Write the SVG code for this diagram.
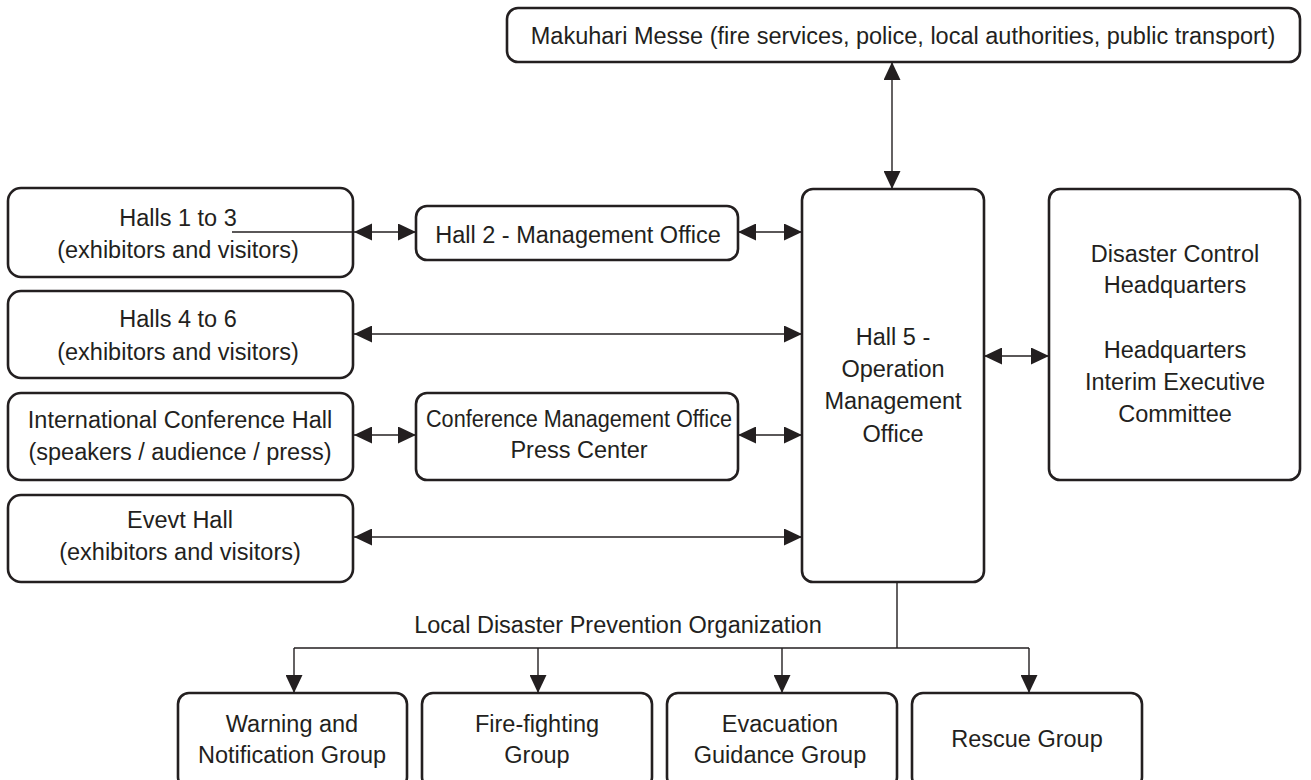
<svg xmlns="http://www.w3.org/2000/svg" width="1311" height="780" viewBox="0 0 1311 780">
<defs>
<style>
.box{fill:#fff;stroke:#231f20;stroke-width:2.6}
.t{font-family:"Liberation Sans",Arial,Helvetica,sans-serif;font-size:23.5px;fill:#231f20;text-anchor:middle}
.c{fill:none;stroke:#231f20;stroke-width:1.4}
.ah{fill:#231f20}
</style>
<marker id="arr" markerUnits="userSpaceOnUse" markerWidth="18" markerHeight="17" refX="18" refY="8.5" orient="auto-start-reverse" viewBox="0 0 18 17">
<path d="M0,0 L18,8.5 L0,17 z" fill="#231f20"/>
</marker>
</defs>
<rect width="1311" height="780" fill="#fff"/>

<g id="makuhari">
<rect class="box" x="507" y="8" width="793" height="54" rx="11"/>
<text class="t" x="903" y="44">Makuhari Messe (fire services, police, local authorities, public transport)</text>
</g>

<g id="halls13">
<rect class="box" x="8" y="188" width="345" height="89" rx="13"/>
<text class="t" x="178" y="226">Halls 1 to 3</text>
<text class="t" x="178" y="258">(exhibitors and visitors)</text>
</g>

<g id="halls46">
<rect class="box" x="8" y="291" width="345" height="87" rx="13"/>
<text class="t" x="178" y="327">Halls 4 to 6</text>
<text class="t" x="178" y="360">(exhibitors and visitors)</text>
</g>

<g id="intl">
<rect class="box" x="8" y="393" width="345" height="87" rx="13"/>
<text class="t" x="180" y="428">International Conference Hall</text>
<text class="t" x="180" y="460">(speakers / audience / press)</text>
</g>

<g id="event">
<rect class="box" x="8" y="495" width="345" height="87" rx="13"/>
<text class="t" x="180" y="528">Evevt Hall</text>
<text class="t" x="180" y="560">(exhibitors and visitors)</text>
</g>

<g id="hall2">
<rect class="box" x="416" y="206" width="322" height="54" rx="11"/>
<text class="t" x="578" y="243">Hall 2 - Management Office</text>
</g>

<g id="conf">
<rect class="box" x="416" y="393" width="322" height="87" rx="11"/>
<text class="t" x="579" y="427" textLength="306" lengthAdjust="spacingAndGlyphs">Conference Management Office</text>
<text class="t" x="579" y="458">Press Center</text>
</g>

<g id="hall5">
<rect class="box" x="802" y="189" width="182" height="393" rx="11"/>
<text class="t" x="893" y="345">Hall 5 -</text>
<text class="t" x="893" y="377">Operation</text>
<text class="t" x="893" y="409">Management</text>
<text class="t" x="893" y="442">Office</text>
</g>

<g id="dchq">
<rect class="box" x="1049" y="189" width="251" height="291" rx="11"/>
<text class="t" x="1175" y="262">Disaster Control</text>
<text class="t" x="1175" y="293">Headquarters</text>
<text class="t" x="1175" y="358">Headquarters</text>
<text class="t" x="1175" y="390">Interim Executive</text>
<text class="t" x="1175" y="422">Committee</text>
</g>

<g id="warning">
<rect class="box" x="178" y="693" width="229" height="95" rx="11"/>
<text class="t" x="292" y="732">Warning and</text>
<text class="t" x="292" y="763">Notification Group</text>
</g>

<g id="fire">
<rect class="box" x="422" y="693" width="230" height="95" rx="11"/>
<text class="t" x="537" y="732">Fire-fighting</text>
<text class="t" x="537" y="763">Group</text>
</g>

<g id="evac">
<rect class="box" x="667" y="693" width="230" height="95" rx="11"/>
<text class="t" x="780" y="732">Evacuation</text>
<text class="t" x="780" y="763">Guidance Group</text>
</g>

<g id="rescue">
<rect class="box" x="912" y="693" width="230" height="95" rx="11"/>
<text class="t" x="1027" y="747">Rescue Group</text>
</g>

<g id="connectors">
<line class="c" x1="892" y1="62" x2="892" y2="189" marker-start="url(#arr)" marker-end="url(#arr)"/>
<line class="c" x1="232" y1="232" x2="416" y2="232" marker-end="url(#arr)"/>
<path class="ah" d="M354,232 L372,223.5 L372,240.5 z"/>
<line class="c" x1="738" y1="232" x2="802" y2="232" marker-start="url(#arr)" marker-end="url(#arr)"/>
<line class="c" x1="354" y1="334" x2="802" y2="334" marker-start="url(#arr)" marker-end="url(#arr)"/>
<line class="c" x1="354" y1="435" x2="416" y2="435" marker-start="url(#arr)" marker-end="url(#arr)"/>
<line class="c" x1="738" y1="435" x2="802" y2="435" marker-start="url(#arr)" marker-end="url(#arr)"/>
<line class="c" x1="354" y1="537" x2="802" y2="537" marker-start="url(#arr)" marker-end="url(#arr)"/>
<line class="c" x1="984" y1="356" x2="1049" y2="356" marker-start="url(#arr)" marker-end="url(#arr)"/>
<path class="c" d="M897,582 V648 M294,648 H1029"/>
<line class="c" x1="294" y1="648" x2="294" y2="693" marker-end="url(#arr)"/>
<line class="c" x1="538" y1="648" x2="538" y2="693" marker-end="url(#arr)"/>
<line class="c" x1="782" y1="648" x2="782" y2="693" marker-end="url(#arr)"/>
<line class="c" x1="1029" y1="648" x2="1029" y2="693" marker-end="url(#arr)"/>
<text class="t" x="618" y="633">Local Disaster Prevention Organization</text>
</g>
</svg>
